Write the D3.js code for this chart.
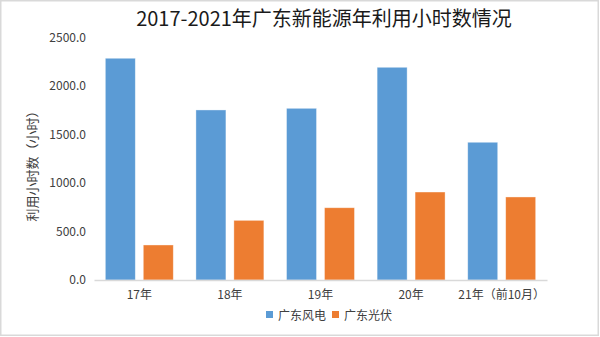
<!DOCTYPE html>
<html><head><meta charset="utf-8">
<script src="https://cdn.jsdelivr.net/npm/d3@7"></script>
<style>body{margin:0;background:#fff}svg{display:block}text{font-family:"Noto Sans CJK SC","Microsoft YaHei",sans-serif;}</style>
</head><body>
<svg id="c" width="600" height="337"></svg>
<script>
const categories = ["17年","18年","19年","20年","21年（前10月）"];
const seriesNames = ["广东风电","广东光伏"];
const wind = [2286, 1753, 1770, 2193, 1420];
const solar = [361, 615, 745, 907, 856];
const yTicks = [0, 500, 1000, 1500, 2000, 2500];
const colors = ["#5B9BD5", "#ED7D31"];

const svg = d3.select("#c");
svg.append("rect").attr("x",0.75).attr("y",0.75).attr("width",597.5).attr("height",334.5)
  .attr("fill","#fff").attr("stroke","#D9D9D9").attr("stroke-width",1.5);

const x0 = d3.scaleBand().domain(categories).range([94, 547]).paddingInner(0.25).paddingOuter(0.125);
const x1 = d3.scaleBand().domain(seriesNames).range([0, x0.bandwidth()]).paddingInner(0.21);
const y = d3.scaleLinear().domain([0, 2500]).range([280, 37.5]);

const data = categories.map((c,i)=>({cat:c, vals:[wind[i], solar[i]]}));

svg.append("text").attr("x",324).attr("y",26).attr("text-anchor","middle")
  .attr("font-size",20).attr("fill","#1a1a1a").text("2017-2021年广东新能源年利用小时数情况");

// y axis labels
const yAxis = d3.axisLeft(y).tickValues(yTicks).tickFormat(d3.format(".1f")).tickSize(0).tickPadding(0);
const ga = svg.append("g").attr("transform","translate(86,0)").call(yAxis);
ga.select(".domain").remove();
ga.selectAll("text").attr("font-size",12).attr("fill","#404040")
  .style("font-family","'Noto Sans CJK SC',sans-serif");

// bars
const g = svg.append("g");
data.forEach(d=>{
  d.vals.forEach((v,j)=>{
    g.append("rect")
      .attr("x", x0(d.cat)+x1(seriesNames[j]))
      .attr("y", y(v))
      .attr("width", x1.bandwidth())
      .attr("height", y(0)-y(v))
      .attr("fill", colors[j])
      .attr("stroke", "#ffffff").attr("stroke-opacity",0.5).attr("stroke-width",0.75);
  });
});

// x axis
const xAxis = d3.axisBottom(x0).tickSize(0).tickPadding(10);
const gx = svg.append("g").attr("transform","translate(0,280)").call(xAxis);
gx.select(".domain").attr("stroke","#D9D9D9").attr("stroke-width",1.5);
gx.selectAll("text").attr("font-size",12).attr("fill","#404040")
  .style("font-family","'Noto Sans CJK SC',sans-serif");

// y title
svg.append("text").attr("transform","translate(37,163) rotate(-90)").attr("text-anchor","middle")
  .attr("font-size",13).attr("fill","#404040").text("利用小时数（小时）");

// legend
const legX = [266, 332];
seriesNames.forEach((s,j)=>{
  svg.append("rect").attr("x",legX[j]).attr("y",311).attr("width",7).attr("height",7).attr("fill",colors[j]);
  svg.append("text").attr("x",legX[j]+12).attr("y",319.5).attr("font-size",12).attr("fill","#404040").text(s);
});
</script>
</body></html>
